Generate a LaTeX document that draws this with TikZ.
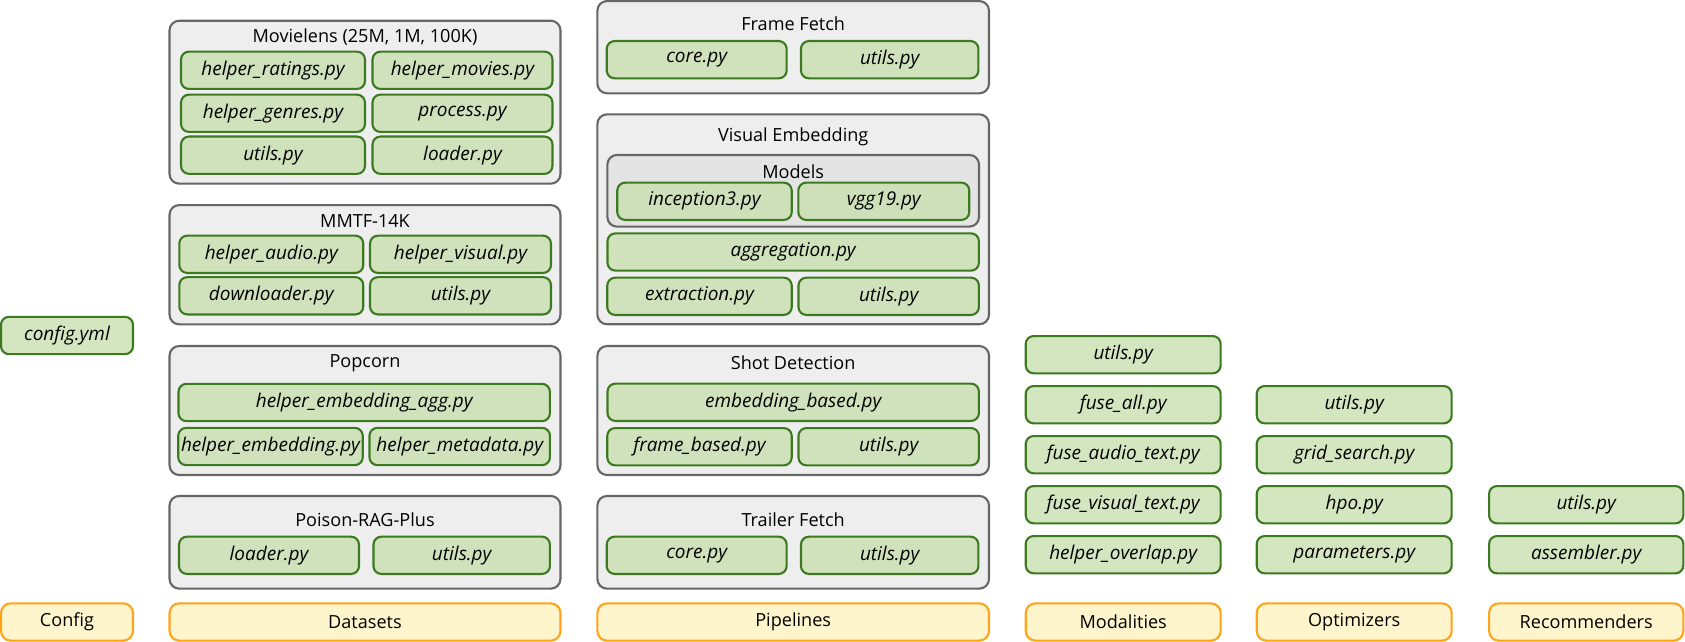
\documentclass[tikz,border=0pt]{standalone}
\usepackage{fontspec}
\setmainfont{Open Sans}
\usetikzlibrary{positioning}

\definecolor{leaffill}{HTML}{C9E0B0}
\definecolor{leafline}{HTML}{3B7A1F}
\definecolor{groupfill}{HTML}{EEEEEE}
\definecolor{subfill}{HTML}{E4E4E4}
\definecolor{groupline}{HTML}{666666}
\definecolor{tagfill}{HTML}{FFF5CC}
\definecolor{tagline}{HTML}{FFA31A}

\tikzset{
  leaf/.style={draw=leafline, line width=1.2pt, fill=leaffill, fill opacity=0.8,
    text opacity=1, rounded corners=4.5pt, minimum height=0.746cm, inner sep=0pt,
    font=\fontsize{10.8}{13}\selectfont\itshape},
  group/.style={draw=groupline, line width=1.2pt, fill=groupfill, rounded corners=5.5pt,
    inner sep=0pt},
  tag/.style={draw=tagline, line width=1.2pt, fill=tagfill, rounded corners=5.5pt,
    minimum height=0.746cm, inner sep=0pt, font=\fontsize{10.3}{12}\selectfont},
  grptitle/.style={inner sep=0pt, font=\fontsize{10.3}{12}\selectfont},
}

\begin{document}
\begin{tikzpicture}[x=0.02cm, y=-0.02cm]
    \useasboundingbox (0,0) rectangle (1685,642);
    % Config
    \node[leaf, minimum width=2.64cm] (cfgyml) at (67,335.5) {config.yml};
    \node[tag, minimum width=2.64cm] (tagconfig) at (67,622) {Config};
    % Datasets
    \node[group, minimum width=7.82cm, minimum height=3.26cm] (movielens) at (365,102.2) {};
    \node[grptitle] (movielenstitle) at (365,36.7) {Movielens (25M, 1M, 100K)};
    \foreach \nm/\x/\y/\w/\lab in {mlratings/273/70.3/3.68/helper\_ratings.py,
        mlmovies/462.5/70.3/3.60/helper\_movies.py, mlgenres/273/113.3/3.68/helper\_genres.py,
        mlprocess/462.5/113.3/3.60/process.py, mlutils/273/155.2/3.68/utils.py,
        mlloader/462.5/155.2/3.60/loader.py} {
      \node[leaf, minimum width=\w cm] (\nm) at (\x,\y) {\lab};
    }
    \node[group, minimum width=7.82cm, minimum height=2.386cm] (mmtf) at (365,264.7) {};
    \node[grptitle] (mmtftitle) at (365,220.7) {MMTF-14K};
    \foreach \nm/\x/\y/\w/\lab in {mmaudio/271.3/254.3/3.68/helper\_audio.py,
        mmvisual/460.5/254.3/3.62/helper\_visual.py, mmdown/271.3/295.8/3.68/downloader.py,
        mmutils/460.5/295.8/3.62/utils.py} {
      \node[leaf, minimum width=\w cm] (\nm) at (\x,\y) {\lab};
    }
    \node[group, minimum width=7.82cm, minimum height=2.58cm] (popcorn) at (365,410.5) {};
    \node[grptitle] (popcorntitle) at (365,363.3) {Popcorn};
    \foreach \nm/\x/\y/\w/\lab in {pcagg/364.2/402.5/7.43/helper\_embedding\_agg.py,
        pcemb/270.5/446.5/3.69/helper\_embedding.py, pcmeta/459.7/446.5/3.61/helper\_metadata.py} {
      \node[leaf, minimum width=\w cm] (\nm) at (\x,\y) {\lab};
    }
    \node[group, minimum width=7.82cm, minimum height=1.854cm] (poison) at (365,542.3) {};
    \node[grptitle] (poisontitle) at (365,520) {Poison-RAG-Plus};
    \node[leaf, minimum width=3.60cm] (prloader) at (269,555.3) {loader.py};
    \node[leaf, minimum width=3.53cm] (prutils) at (461.7,555.3) {utils.py};
    \node[tag, minimum width=7.82cm] (tagdatasets) at (365,622) {Datasets};
    % Pipelines
    \node[group, minimum width=7.834cm, minimum height=1.846cm] (framefetch) at (793.2,47.2) {};
    \node[grptitle] (framefetchtitle) at (793.2,24) {Frame Fetch};
    \node[leaf, minimum width=3.60cm] (ffcore) at (696.7,59.7) {core.py};
    \node[leaf, minimum width=3.55cm] (ffutils) at (889.7,59.7) {utils.py};
    \node[group, minimum width=7.834cm, minimum height=4.2cm] (visemb) at (793.2,219.3) {};
    \node[grptitle] (visembtitle) at (793.2,136.7) {Visual Embedding};
    \node[group, fill=subfill, minimum width=7.434cm, minimum height=1.434cm] (models) at (793.2,190.8) {};
    \node[grptitle] (modelstitle) at (793.2,171.7) {Models};
    \foreach \nm/\x/\y/\w/\lab in {veincep/704.5/201.3/3.49/inception3.py,
        vevgg/883.8/201.3/3.42/vgg19.py, veagg/793.2/252/7.43/aggregation.py,
        veextr/699.5/296.3/3.69/extraction.py, veutils/888.7/296.3/3.61/utils.py} {
      \node[leaf, minimum width=\w cm] (\nm) at (\x,\y) {\lab};
    }
    \node[group, minimum width=7.834cm, minimum height=2.58cm] (shotdet) at (793.2,410.5) {};
    \node[grptitle] (shotdettitle) at (793.2,362.7) {Shot Detection};
    \foreach \nm/\x/\y/\w/\lab in {sdemb/793.2/402.3/7.43/embedding\_based.py,
        sdframe/699.5/446.7/3.69/frame\_based.py, sdutils/888.7/446.7/3.61/utils.py} {
      \node[leaf, minimum width=\w cm] (\nm) at (\x,\y) {\lab};
    }
    \node[group, minimum width=7.834cm, minimum height=1.854cm] (trailer) at (793.2,542.3) {};
    \node[grptitle] (trailertitle) at (793.2,520) {Trailer Fetch};
    \node[leaf, minimum width=3.60cm] (tfcore) at (696.7,555.3) {core.py};
    \node[leaf, minimum width=3.55cm] (tfutils) at (889.7,555.3) {utils.py};
    \node[tag, minimum width=7.834cm] (tagpipelines) at (793.2,622) {Pipelines};
    % Modalities
    \foreach \nm/\y/\lab in {utils/354.7/utils.py, all/404.7/fuse\_all.py,
        audio/454.7/fuse\_audio\_text.py, visual/504.7/fuse\_visual\_text.py,
        overlap/554.7/helper\_overlap.py} {
      \node[leaf, minimum width=3.9cm] (mod\nm) at (1123.2,\y) {\lab};
    }
    \node[tag, minimum width=3.9cm] (tagmodalities) at (1123.2,622) {Modalities};
    % Optimizers
    \foreach \nm/\y/\lab in {utils/404.7/utils.py, grid/454.7/grid\_search.py,
        hpo/504.7/hpo.py, params/554.7/parameters.py} {
      \node[leaf, minimum width=3.9cm] (opt\nm) at (1354.2,\y) {\lab};
    }
    \node[tag, minimum width=3.9cm] (tagoptimizers) at (1354.2,622) {Optimizers};
    % Recommenders
    \node[leaf, minimum width=3.886cm] (recutils) at (1586.2,504.7) {utils.py};
    \node[leaf, minimum width=3.886cm] (recassembler) at (1586.2,554.7) {assembler.py};
    \node[tag, minimum width=3.886cm] (tagrecommenders) at (1586.2,622) {Recommenders};
  \end{tikzpicture}
\end{document}
